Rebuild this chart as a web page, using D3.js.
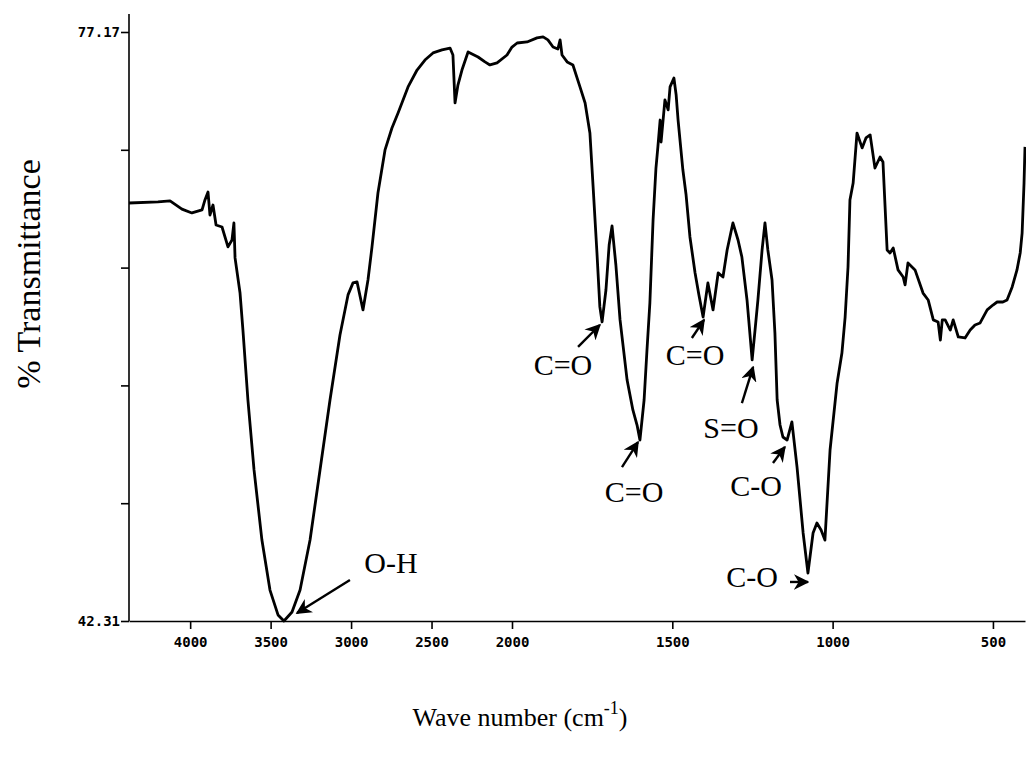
<!DOCTYPE html>
<html>
<head>
<meta charset="utf-8">
<script src="https://cdn.jsdelivr.net/npm/d3@7"></script>
<style>
  body { margin: 0; background: #fff; }
  svg { display: block; }
  .axis path, .axis line { stroke: #000; stroke-width: 1.6; }
  .axis text { font-family: "DejaVu Sans Mono", monospace; font-weight: bold; font-size: 14px; fill: #000; }
  .axis-label { font-family: "Liberation Serif", "Times New Roman", serif; fill: #000; }
  .note { font-family: "Liberation Serif", "Times New Roman", serif; font-size: 30px; fill: #000; }
</style>
</head>
<body>
<div id="chart"></div>
<script>
// IR spectrum (wave number in cm-1, % transmittance)
const waveNumbers = [
  4380, 4200, 4125, 4051, 3989, 3926, 3908, 3889, 3877, 3858, 3839, 3802, 3765, 3740, 3728, 3721,
  3690, 3672, 3641, 3603, 3554, 3504, 3454, 3417, 3367, 3317, 3255, 3193, 3131, 3069, 3019, 2988,
  2963, 2926, 2895, 2870, 2833, 2789, 2746, 2708, 2646, 2590, 2541, 2491, 2435, 2385, 2367, 2354,
  2336, 2311, 2273, 2211, 2168, 2137, 2093, 2031, 2000, 1984, 1953, 1922, 1903, 1888, 1872, 1857,
  1850, 1844, 1828, 1810, 1788, 1772, 1757, 1747, 1735, 1726, 1719, 1707, 1697, 1688, 1676, 1663,
  1641, 1623, 1610, 1601, 1588, 1579, 1570, 1560, 1551, 1545, 1538, 1535, 1523, 1513, 1507, 1495,
  1488, 1482, 1467, 1457, 1445, 1429, 1417, 1404, 1389, 1373, 1357, 1342, 1329, 1311, 1295, 1283,
  1267, 1251, 1242, 1233, 1220, 1211, 1202, 1189, 1180, 1173, 1164, 1155, 1142, 1127, 1111, 1092,
  1077, 1061, 1049, 1036, 1024, 1008, 986, 971, 961, 952, 946, 936, 924, 908, 896, 883,
  868, 852, 843, 830, 821, 811, 796, 780, 774, 765, 743, 718, 702, 686, 671, 664,
  658, 649, 633, 624, 608, 587, 571, 556, 540, 518, 500, 487, 469, 456, 440, 425,
  415, 409, 403, 400
];
const transmittance = [
  67.05, 67.11, 67.17, 66.69, 66.46, 66.64, 67.23, 67.70, 66.34, 66.93, 65.75, 65.63, 64.45, 64.86, 65.87, 63.80,
  61.72, 59.53, 55.39, 51.25, 47.10, 44.14, 42.67, 42.31, 42.84, 44.14, 47.10, 51.25, 55.39, 59.24, 61.61, 62.32,
  62.38, 60.72, 62.49, 64.45, 67.64, 70.19, 71.49, 72.38, 73.92, 74.92, 75.51, 75.93, 76.11, 76.22, 75.81, 72.97,
  74.03, 74.92, 75.99, 75.69, 75.40, 75.22, 75.34, 75.81, 76.28, 76.52, 76.58, 76.82, 76.88, 76.70, 76.28, 76.16,
  76.70, 75.81, 75.40, 75.22, 73.92, 72.97, 71.19, 68.00, 64.09, 60.90, 60.01, 61.90, 64.56, 65.69, 63.38, 60.13,
  56.57, 54.80, 53.91, 53.02, 55.39, 58.35, 61.13, 66.04, 69.12, 70.37, 71.96, 70.66, 73.15, 72.56, 73.92, 74.45,
  73.44, 71.96, 69.00, 67.52, 65.04, 62.91, 61.61, 60.30, 62.32, 60.72, 62.91, 62.67, 64.27, 65.87, 64.86, 63.85,
  61.31, 57.76, 59.53, 61.31, 64.27, 65.87, 64.27, 62.49, 59.36, 55.39, 53.91, 53.20, 53.02, 54.09, 51.42, 47.52,
  45.15, 47.52, 48.11, 47.70, 47.10, 52.43, 56.40, 58.17, 60.30, 63.26, 67.23, 68.23, 71.19, 70.31, 70.90, 71.08,
  69.12, 69.77, 69.48, 64.27, 64.09, 64.39, 63.09, 62.67, 62.20, 63.50, 63.09, 61.72, 61.31, 60.13, 60.01, 58.94,
  60.13, 60.13, 59.53, 60.13, 59.12, 59.06, 59.53, 59.83, 59.95, 60.72, 61.01, 61.19, 61.19, 61.31, 62.08, 63.09,
  64.09, 65.27, 68.23, 70.37
];

const xTickValues = [4000, 3500, 3000, 2500, 2000, 1500, 1000, 500];
const yMin = 42.31;
const yMax = 77.17;
const yTickCount = 5;

// band assignments: label, label anchor (wn, T), arrow tail (wn, T), arrow head (wn, T)
const noteLabels = ['O-H', 'C=O', 'C=O', 'C=O', 'S=O', 'C-O', 'C-O'];
const noteAt = [[2752, 45.15], [1841, 56.87], [1619, 49.35], [1429, 57.46], [1317, 53.14], [1239, 49.71], [1251, 44.32]];
const arrowFrom = [[3007, 44.74], [1794, 58.53], [1657, 51.42], [1439, 59.06], [1283, 55.21], [1186, 51.66], [1133, 44.62]];
const arrowTo = [[3336, 42.78], [1726, 59.83], [1607, 52.90], [1401, 60.13], [1248, 57.34], [1149, 52.61], [1077, 44.62]];

const W = 1026, H = 762;
const plot = { left: 129, right: 1025, top: 32, bottom: 621 };

const svg = d3.select('#chart').append('svg')
    .attr('width', W)
    .attr('height', H);

svg.append('defs').append('marker')
    .attr('id', 'head')
    .attr('viewBox', '0 0 10 10')
    .attr('refX', 9)
    .attr('refY', 5)
    .attr('markerWidth', 6.5)
    .attr('markerHeight', 6.5)
    .attr('markerUnits', 'strokeWidth')
    .attr('orient', 'auto')
  .append('path')
    .attr('d', 'M0,0 L10,5 L0,10 L3,5 Z')
    .attr('fill', '#000');

// the instrument changes scale at 2000 cm-1
const x = d3.scaleLinear()
    .domain([4380, 2000, 400])
    .range([plot.left, 512, plot.right]);

const y = d3.scaleLinear()
    .domain([yMin, yMax])
    .range([plot.bottom, plot.top]);

// x axis
svg.append('g')
    .attr('class', 'axis')
    .attr('transform', `translate(0,${plot.bottom})`)
    .call(d3.axisBottom(x).tickValues(xTickValues).tickSize(8).tickSizeOuter(0).tickPadding(8).tickFormat(d3.format('d')));

// y axis, only the ends get a number
const yTicks = d3.range(yTickCount + 1).map(i => yMin + i * (yMax - yMin) / yTickCount);
const yAxis = svg.append('g')
    .attr('class', 'axis')
    .attr('transform', `translate(${plot.left},0)`)
    .call(d3.axisLeft(y).tickValues(yTicks).tickSize(8).tickPadding(1)
        .tickFormat((d, i) => (i === 0 || i === yTickCount) ? d.toFixed(2) : ''));
yAxis.select('.domain').remove();
yAxis.append('line')
    .attr('x1', 0).attr('x2', 0)
    .attr('y1', y(yMin)).attr('y2', y(yMax) - 18)
    .attr('stroke', '#000').attr('stroke-width', 2.2);

// spectrum
const spectrum = waveNumbers.map((w, i) => [w, transmittance[i]]);
svg.append('path')
    .datum(spectrum)
    .attr('fill', 'none')
    .attr('stroke', '#000')
    .attr('stroke-width', 2.8)
    .attr('stroke-linejoin', 'round')
    .attr('d', d3.line().x(d => x(d[0])).y(d => y(d[1])));

// band labels with arrows
noteLabels.forEach((t, i) => {
    svg.append('line')
        .attr('x1', x(arrowFrom[i][0])).attr('y1', y(arrowFrom[i][1]))
        .attr('x2', x(arrowTo[i][0])).attr('y2', y(arrowTo[i][1]))
        .attr('stroke', '#000')
        .attr('stroke-width', 2.4)
        .attr('marker-end', 'url(#head)');
    svg.append('text')
        .attr('class', 'note')
        .attr('x', x(noteAt[i][0]))
        .attr('y', y(noteAt[i][1]))
        .attr('text-anchor', 'middle')
        .text(t);
});

// axis titles
svg.append('text')
    .attr('class', 'axis-label')
    .attr('transform', 'translate(40,274) rotate(-90)')
    .attr('text-anchor', 'middle')
    .style('font-size', '34px')
    .text('% Transmittance');

const xt = svg.append('text')
    .attr('class', 'axis-label')
    .attr('x', 520)
    .attr('y', 726)
    .attr('text-anchor', 'middle')
    .style('font-size', '26px');
xt.append('tspan').text('Wave number (cm');
xt.append('tspan').attr('dy', -12).style('font-size', '18px').text('-1');
xt.append('tspan').attr('dy', 12).text(')');
</script>
</body>
</html>
